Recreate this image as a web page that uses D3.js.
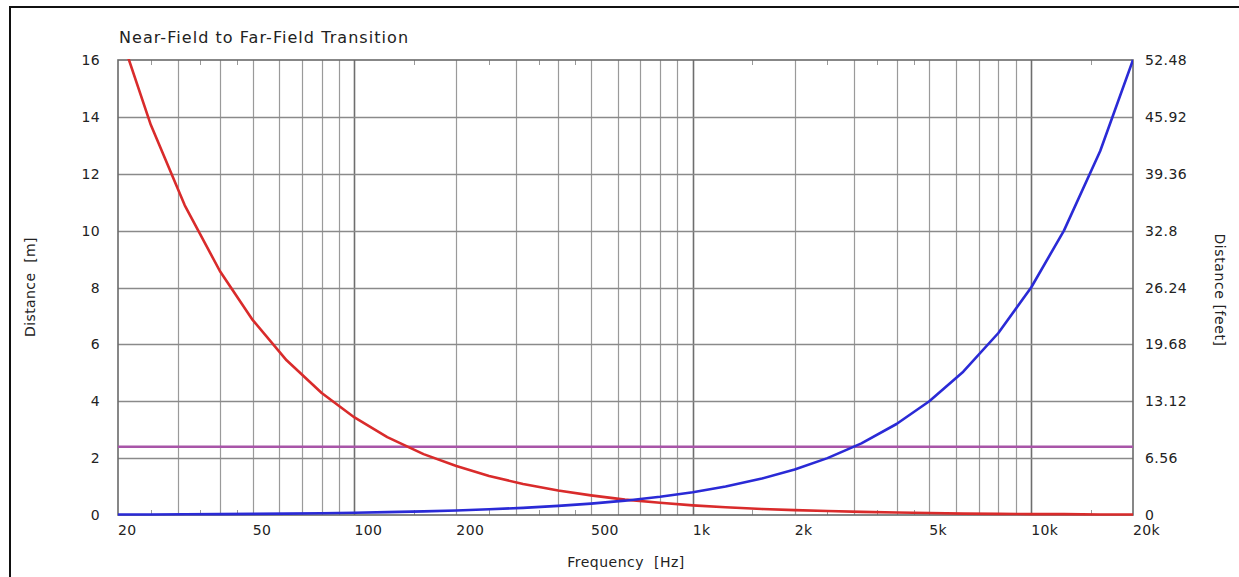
<!DOCTYPE html>
<html>
<head>
<meta charset="utf-8">
<script src="https://cdn.jsdelivr.net/npm/d3@7"></script>
<style>
  html, body { margin: 0; padding: 0; background: #fff; }
  svg { display: block; }
  text { font-family: "DejaVu Sans", Verdana, sans-serif; fill: #222; }
</style>
</head>
<body>
<svg id="chart" width="1239" height="577"></svg>
<script>
// Third-octave frequencies (Hz)
const frequencies = [20, 25, 31.5, 40, 50, 63, 80, 100, 125, 160, 200, 250, 315, 400, 500, 630,
  800, 1000, 1250, 1600, 2000, 2500, 3150, 4000, 5000, 6300, 8000, 10000, 12500, 16000, 20000];

// Near-field limit (m), falls with frequency
const nearField = [17.15, 13.72, 10.89, 8.58, 6.86, 5.44, 4.29, 3.43, 2.74, 2.14, 1.72, 1.37, 1.09,
  0.86, 0.69, 0.54, 0.43, 0.34, 0.27, 0.21, 0.17, 0.14, 0.11, 0.09, 0.07, 0.05, 0.04, 0.03, 0.03, 0.02, 0.02];

// Far-field onset (m), rises with frequency
const farField = [0.016, 0.02, 0.025, 0.032, 0.04, 0.05, 0.064, 0.08, 0.1, 0.128, 0.16, 0.2, 0.252,
  0.32, 0.4, 0.504, 0.64, 0.8, 1.0, 1.28, 1.6, 2.0, 2.52, 3.2, 4.0, 5.04, 6.4, 8.0, 10.0, 12.8, 16.0];

// Listening distance reference (m)
const listeningDistance = 2.4;

// Axis tick labels
const xTickValues = [20, 50, 100, 200, 500, 1000, 2000, 5000, 10000, 20000];
const xTickLabels = ["20", "50", "100", "200", "500", "1k", "2k", "5k", "10k", "20k"];
const yTickValues = [0, 2, 4, 6, 8, 10, 12, 14, 16];
const yFeetLabels = ["0", "6.56", "13.12", "19.68", "26.24", "32.8", "39.36", "45.92", "52.48"];

const svg = d3.select("#chart");
const plotL = 118, plotR = 1133, plotT = 60, plotB = 515;

const x = d3.scaleLog().domain([20, 20000]).range([plotL, plotR]);
const y = d3.scaleLinear().domain([0, 16]).range([plotB, plotT]);
const yFeet = d3.scaleLinear().domain([0, 52.48]).range([plotB, plotT]);

// outer frame
svg.append("rect").attr("x", 10).attr("y", 7).attr("width", 1260).attr("height", 600)
  .attr("fill", "none").attr("stroke", "#111").attr("stroke-width", 2);

// title
svg.append("text").attr("x", 119).attr("y", 43).attr("font-size", 16)
  .attr("letter-spacing", 1.05)
  .text("Near-Field to Far-Field Transition");

// vertical grid: log minor lines, decades darker
const decades = [100, 1000, 10000];
const gridFreqs = [];
for (const dec of [10, 100, 1000, 10000]) {
  for (let m = 1; m <= 9; m++) {
    const f = dec * m;
    if (f > 20 && f < 20000) gridFreqs.push(f);
  }
}
svg.append("g").selectAll("line").data(gridFreqs).join("line")
  .attr("x1", d => Math.round(x(d)) + 0.5).attr("x2", d => Math.round(x(d)) + 0.5)
  .attr("y1", plotT).attr("y2", plotB)
  .attr("stroke", d => decades.includes(d) ? "#6e6e6e" : "#9a9a9a")
  .attr("stroke-width", d => decades.includes(d) ? 1.6 : 1.2);

// horizontal grid
svg.append("g").selectAll("line").data(yTickValues.slice(1, -1)).join("line")
  .attr("x1", plotL).attr("x2", plotR)
  .attr("y1", d => Math.round(y(d)) + 0.5).attr("y2", d => Math.round(y(d)) + 0.5)
  .attr("stroke", "#8a8a8a").attr("stroke-width", 1.3);

// short inner ticks at half-steps
const minorTicks = [];
for (const dec of [10, 100, 1000, 10000]) {
  for (const m of [1.5, 2.5, 3.5, 4.5]) {
    const f = dec * m;
    if (f > 20 && f < 20000) minorTicks.push(f);
  }
}
const mt = svg.append("g").attr("stroke", "#999").attr("stroke-width", 1);
mt.selectAll("line.t").data(minorTicks).join("line").attr("class", "t")
  .attr("x1", d => Math.round(x(d)) + 0.5).attr("x2", d => Math.round(x(d)) + 0.5)
  .attr("y1", plotT).attr("y2", plotT + 5);
mt.selectAll("line.b").data(minorTicks).join("line").attr("class", "b")
  .attr("x1", d => Math.round(x(d)) + 0.5).attr("x2", d => Math.round(x(d)) + 0.5)
  .attr("y1", plotB - 5).attr("y2", plotB);

// plot frame
svg.append("rect").attr("x", plotL).attr("y", plotT).attr("width", plotR - plotL).attr("height", plotB - plotT)
  .attr("fill", "none").attr("stroke", "#6a6a6a").attr("stroke-width", 1.6);

// clip for data lines
svg.append("defs").append("clipPath").attr("id", "plotClip")
  .append("rect").attr("x", plotL).attr("y", plotT - 1).attr("width", plotR - plotL).attr("height", plotB - plotT + 3);

const plot = svg.append("g").attr("clip-path", "url(#plotClip)");

// listening distance line
plot.append("line")
  .attr("x1", x(20)).attr("x2", x(20000))
  .attr("y1", y(listeningDistance)).attr("y2", y(listeningDistance))
  .attr("stroke", "#a855a8").attr("stroke-width", 2.6);

const line = d3.line().x((d, i) => x(frequencies[i])).y(d => y(d));

plot.append("path").datum(nearField).attr("d", line)
  .attr("fill", "none").attr("stroke", "#d92b2b").attr("stroke-width", 2.6)
  .attr("stroke-linejoin", "round");

plot.append("path").datum(farField).attr("d", line)
  .attr("fill", "none").attr("stroke", "#2a2ad6").attr("stroke-width", 2.6)
  .attr("stroke-linejoin", "round");

// x tick labels (left-aligned at tick)
svg.append("g").selectAll("text").data(xTickValues).join("text")
  .attr("x", d => x(d)).attr("y", 535).attr("font-size", 14).attr("letter-spacing", 0.4)
  .text((d, i) => xTickLabels[i]);

// left y tick labels
svg.append("g").selectAll("text").data(yTickValues).join("text")
  .attr("x", 100).attr("y", d => y(d)).attr("dy", "0.36em").attr("text-anchor", "end")
  .attr("font-size", 14).attr("letter-spacing", 0.4).text(d => d);

// right y tick labels (feet)
svg.append("g").selectAll("text").data(yFeetLabels).join("text")
  .attr("x", 1145).attr("y", (d, i) => yFeet(+d)).attr("dy", "0.36em")
  .attr("font-size", 14).attr("letter-spacing", 0.4).text(d => d);

// axis titles
svg.append("text").attr("x", 626).attr("y", 567).attr("text-anchor", "middle")
  .attr("font-size", 14).attr("letter-spacing", 0.5).attr("xml:space", "preserve").text("Frequency  [Hz]");

svg.append("text").attr("transform", "translate(35,287) rotate(-90)").attr("text-anchor", "middle")
  .attr("font-size", 14).attr("letter-spacing", 0.4).attr("xml:space", "preserve").text("Distance  [m]");

svg.append("text").attr("transform", "translate(1215,290) rotate(90)").attr("text-anchor", "middle")
  .attr("font-size", 14).attr("letter-spacing", 0.6).text("Distance [feet]");
</script>
</body>
</html>
